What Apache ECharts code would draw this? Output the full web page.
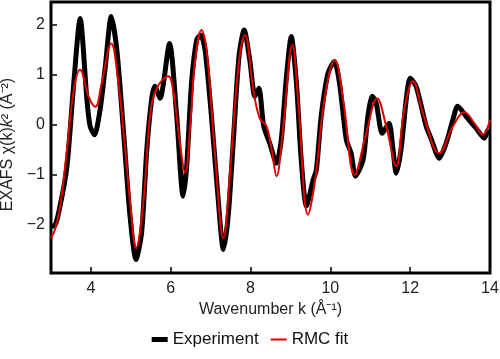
<!DOCTYPE html>
<html><head><meta charset="utf-8">
<script src="https://cdn.jsdelivr.net/npm/echarts@6/dist/echarts.min.js"></script>
<style>html,body{margin:0;padding:0;background:#fff}#c{width:500px;height:359px}</style>
</head><body><div id="c"></div>
<script>
var expK = [3.00,3.08,3.22,3.40,3.57,3.73,3.90,3.98,4.09,4.23,4.36,4.51,4.65,4.82,4.98,5.13,5.27,5.40,5.52,5.60,5.73,5.97,6.15,6.31,6.40,6.52,6.65,6.75,6.86,7.02,7.19,7.32,7.44,7.57,7.71,7.84,7.98,8.11,8.21,8.33,8.48,8.65,8.77,8.90,9.02,9.15,9.27,9.40,9.57,9.65,9.77,9.94,10.10,10.23,10.40,10.52,10.63,10.82,10.94,11.05,11.15,11.30,11.47,11.57,11.65,11.77,11.90,12.00,12.15,12.40,12.52,12.73,12.90,13.07,13.19,13.40,13.65,13.86,13.94];
var expChi = [-2.03,-2.03,-1.65,-0.83,0.83,2.13,0.50,-0.03,-0.20,0.30,1.16,2.17,1.50,-0.17,-1.83,-2.70,-2.17,-0.50,0.50,0.77,0.53,1.63,0.17,-1.43,-0.83,0.83,1.70,1.80,1.50,0.17,-1.50,-2.50,-1.83,-0.30,1.37,1.90,1.30,0.57,0.73,-0.03,-0.37,-0.77,-0.30,0.97,1.77,0.83,-0.70,-1.63,-1.10,-0.90,0.17,1.03,1.27,0.83,-0.30,-0.57,-1.03,-0.70,0.17,0.57,0.43,-0.17,0.03,-0.50,-0.97,-0.50,0.50,0.93,0.77,-0.03,-0.27,-0.67,-0.37,0.10,0.37,0.17,-0.07,-0.27,-0.10];
var fitK = [3.00,3.10,3.23,3.40,3.57,3.73,3.94,4.11,4.27,4.51,4.69,4.86,5.00,5.13,5.32,5.48,5.65,5.94,6.07,6.23,6.36,6.50,6.60,6.77,6.90,7.10,7.32,7.50,7.70,7.86,8.07,8.23,8.40,8.53,8.65,8.80,9.05,9.20,9.44,9.62,9.85,10.11,10.32,10.61,10.90,11.17,11.40,11.65,11.85,12.07,12.32,12.73,13.07,13.36,13.61,13.82,14.00];
var fitChi = [-2.27,-2.10,-1.63,-0.50,0.70,1.10,0.57,0.36,0.83,1.63,0.83,-0.50,-1.70,-2.47,-1.50,0.17,0.73,0.97,0.63,-0.37,-0.97,0.10,1.20,1.90,1.50,-0.50,-2.27,-0.80,1.20,1.80,0.70,0.13,-0.03,-0.50,-1.03,-0.20,1.60,0.40,-1.80,-1.10,0.50,1.30,0.50,-1.00,-0.17,0.53,-0.03,-0.83,0.30,0.87,0.23,-0.57,-0.03,0.25,0.03,-0.20,0.10];
var xTicks = [4,6,8,10,12,14];
var yTicks = [-2,-1,0,1,2];

function pairs(a,b){return a.map(function(v,i){return [v,b[i]];});}
var FF = "'Liberation Sans', Arial, sans-serif";
var chart = echarts.init(document.getElementById('c'), null, {renderer:'canvas'});
chart.setOption({
  animation:false,
  grid:{left:51,right:10,top:2,bottom:86,containLabel:false,outerBoundsMode:'none',
    show:true,borderColor:'#000',borderWidth:3,backgroundColor:'transparent'},
  xAxis:{type:'value',min:3,max:14,splitNumber:5,
    name:'Wavenumber k (Å⁻¹)',nameLocation:'middle',nameGap:29,
    nameTextStyle:{fontFamily:FF,fontSize:16,color:'#222'},
    axisLine:{show:false,onZero:false},
    axisTick:{inside:true,length:6,lineStyle:{color:'#000',width:1.5},customValues:xTicks},
    axisLabel:{fontFamily:FF,fontSize:16,color:'#222',margin:8,customValues:xTicks,
      formatter:function(v){return xTicks.indexOf(v)>=0?String(v):'';}},
    splitLine:{show:false}},
  yAxis:{type:'value',min:-2.97,max:2.46,splitNumber:5,
    name:'EXAFS χ(k){i|k}² (Å⁻²)',nameLocation:'middle',nameGap:26,
    nameTextStyle:{fontFamily:FF,fontSize:16,color:'#222',padding:[0,14,0,0],
      rich:{i:{fontFamily:FF,fontSize:16,fontStyle:'italic',color:'#222'}}},
    axisLine:{show:false,onZero:false},
    axisTick:{inside:true,length:6,lineStyle:{color:'#000',width:1.5},customValues:yTicks},
    axisLabel:{fontFamily:FF,fontSize:16,color:'#222',margin:6,customValues:yTicks,
      formatter:function(v){return yTicks.indexOf(v)>=0?String(v).replace('-','\u2212'):'';}},
    splitLine:{show:false}},
  legend:{bottom:6,left:'center',itemWidth:16,itemHeight:10,itemGap:12,
    textStyle:{fontFamily:FF,fontSize:17,color:'#111'},
    data:[
      {name:'Experiment',icon:'path://M0,0L16,0L16,5L0,5Z',itemStyle:{color:'#000'}},
      {name:'RMC fit',icon:'path://M0,0L16,0L16,2L0,2Z',itemStyle:{color:'#e00000'}}
    ]},
  series:[
    {name:'Experiment',type:'line',data:pairs(expK,expChi),showSymbol:false,symbol:'none',smooth:0.25,
     lineStyle:{color:'#000',width:5},itemStyle:{color:'#000'},z:2},
    {name:'RMC fit',type:'line',data:pairs(fitK,fitChi),showSymbol:false,symbol:'none',smooth:0.4,
     lineStyle:{color:'#e00000',width:2},itemStyle:{color:'#e00000'},z:3}
  ]
});
</script></body></html>
